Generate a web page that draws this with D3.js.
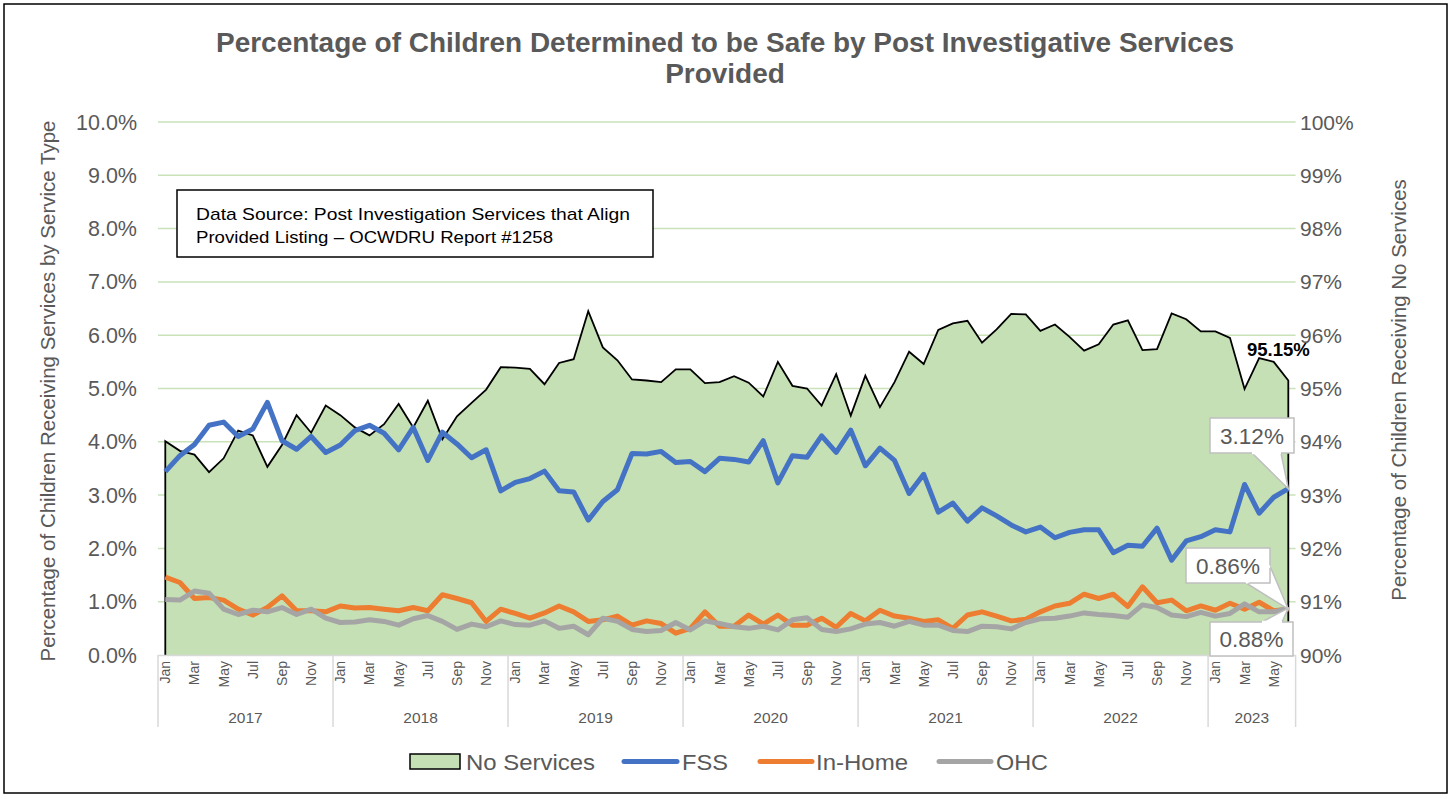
<!DOCTYPE html>
<html><head><meta charset="utf-8">
<script src="https://cdn.jsdelivr.net/npm/d3@7"></script>
<style>body{margin:0;background:#fff}svg{display:block;font-family:"Liberation Sans",Arial,sans-serif}</style>
</head><body>
<svg id="c" width="1451" height="799"></svg>
<script>
const months = ["Jan","Feb","Mar","Apr","May","Jun","Jul","Aug","Sep","Oct","Nov","Dec"];
const years = ["2017","2018","2019","2020","2021","2022","2023"];
const leftTicks = [0,1,2,3,4,5,6,7,8,9,10];
const rightTicks = [90,91,92,93,94,95,96,97,98,99,100];
const noServices = [94.01,93.83,93.76,93.43,93.69,94.21,94.12,93.53,93.94,94.50,94.17,94.68,
 94.50,94.27,94.12,94.33,94.71,94.27,94.77,94.05,94.48,94.73,94.98,95.40,
 95.39,95.37,95.08,95.48,95.55,96.45,95.77,95.53,95.17,95.15,95.12,95.36,
 95.36,95.10,95.12,95.23,95.11,94.85,95.50,95.05,95.00,94.68,95.27,94.49,
 95.24,94.65,95.12,95.69,95.46,96.10,96.22,96.27,95.86,96.11,96.40,96.39,
 96.08,96.20,95.97,95.71,95.83,96.20,96.28,95.72,95.74,96.41,96.30,96.07,
 96.07,95.95,94.99,95.57,95.50,95.15];
const fss = [3.44,3.74,3.95,4.31,4.37,4.10,4.24,4.74,4.02,3.86,4.10,3.80,
 3.94,4.21,4.31,4.16,3.85,4.27,3.65,4.18,3.96,3.70,3.85,3.08,
 3.24,3.31,3.45,3.08,3.06,2.53,2.88,3.10,3.78,3.77,3.82,3.61,
 3.63,3.44,3.69,3.67,3.62,4.02,3.23,3.74,3.71,4.11,3.80,4.22,
 3.55,3.88,3.65,3.03,3.39,2.68,2.85,2.51,2.76,2.61,2.44,2.31,
 2.40,2.20,2.30,2.35,2.35,1.92,2.06,2.04,2.38,1.78,2.14,2.22,
 2.35,2.31,3.20,2.66,2.96,3.12];
const inHome = [1.46,1.36,1.06,1.08,1.03,0.86,0.75,0.89,1.11,0.83,0.83,0.81,
 0.92,0.88,0.89,0.86,0.83,0.89,0.83,1.13,1.06,0.98,0.63,0.86,
 0.78,0.69,0.79,0.92,0.81,0.63,0.66,0.73,0.56,0.64,0.59,0.41,
 0.50,0.81,0.54,0.54,0.75,0.58,0.75,0.56,0.56,0.69,0.52,0.78,
 0.64,0.84,0.73,0.69,0.63,0.66,0.50,0.75,0.81,0.73,0.64,0.67,
 0.81,0.92,0.97,1.14,1.06,1.14,0.91,1.28,0.98,1.03,0.83,0.92,
 0.84,0.97,0.86,0.99,0.83,0.86];
const ohc = [1.04,1.03,1.20,1.16,0.86,0.76,0.84,0.81,0.89,0.76,0.86,0.69,
 0.61,0.62,0.66,0.63,0.56,0.68,0.74,0.63,0.48,0.58,0.53,0.64,
 0.57,0.56,0.64,0.50,0.54,0.38,0.69,0.63,0.48,0.44,0.46,0.61,
 0.47,0.64,0.59,0.53,0.50,0.54,0.47,0.66,0.70,0.48,0.44,0.49,
 0.58,0.61,0.54,0.63,0.56,0.56,0.46,0.44,0.54,0.53,0.49,0.61,
 0.68,0.69,0.73,0.79,0.76,0.74,0.71,0.94,0.89,0.75,0.72,0.80,
 0.73,0.78,0.96,0.81,0.81,0.88];

const N = noServices.length;
const idx = d3.range(N);
const gray = "#595959";
const svg = d3.select("#c");
svg.append("rect").attr("x",4).attr("y",4).attr("width",1443).attr("height",789)
  .attr("fill","#fff").attr("stroke","#000").attr("stroke-width",1.5);

const x = d3.scaleBand().domain(idx).range([158,1295.6]).padding(0);
const xc = i => x(i) + x.bandwidth()/2;
const yL = d3.scaleLinear().domain([0,10]).range([655,122]);
const yR = d3.scaleLinear().domain([90,100]).range([655,122]);

function fit(sel, w){ sel.attr("textLength", w).attr("lengthAdjust","spacingAndGlyphs"); return sel; }

// gridlines
svg.append("g").selectAll("line").data(leftTicks.slice(1)).join("line")
  .attr("x1",158).attr("x2",1295.6).attr("y1",d=>yL(d)).attr("y2",d=>yL(d))
  .attr("stroke","#c9e2b8").attr("stroke-width",1.5);

// area
const area = d3.area().x(i=>xc(i)).y0(yR(90)).y1(i=>yR(noServices[i]));
svg.append("path").datum(idx).attr("d",area).attr("fill","#c5e0b4");
const outline = d3.line().x(d=>d[0]).y(d=>d[1]);
const pts = [[xc(0),yR(90)]].concat(idx.map(i=>[xc(i),yR(noServices[i])])).concat([[xc(N-1),yR(90)]]);
svg.append("path").attr("d",outline(pts)).attr("fill","none").attr("stroke","#000").attr("stroke-width",1.8);

// x axis
svg.append("line").attr("x1",158).attr("x2",1295.6).attr("y1",655.5).attr("y2",655.5).attr("stroke","#d9d9d9").attr("stroke-width",1.5);
const sepIdx = [0,12,24,36,48,60,72];
const seps = sepIdx.map(i=>x(i)).concat([x(N-1)+x.bandwidth()]);
svg.append("g").selectAll("line").data(seps).join("line")
  .attr("x1",d=>d).attr("x2",d=>d).attr("y1",655).attr("y2",727)
  .attr("stroke","#d9d9d9").attr("stroke-width",1.5);
svg.append("g").selectAll("text").data(idx.filter(i=>i%2===0)).join("text")
  .attr("transform",i=>`translate(${xc(i)+5},661) rotate(-90)`)
  .attr("text-anchor","end").attr("font-size",14).attr("fill",gray)
  .text(i=>months[i%12]);
svg.append("g").selectAll("text").data(years).join("text")
  .attr("x",(d,k)=>(seps[k]+seps[k+1])/2).attr("y",723)
  .attr("text-anchor","middle").attr("font-size",15.5).attr("fill",gray).text(d=>d);

// y axes labels
svg.append("g").selectAll("text").data(leftTicks).join("text")
  .attr("x",137).attr("y",d=>yL(d)+7.5).attr("text-anchor","end")
  .attr("font-size",21.5).attr("fill",gray).text(d=>d.toFixed(1)+"%");
svg.append("g").selectAll("text").data(rightTicks).join("text")
  .attr("x",1300).attr("y",d=>yR(d)+7.5).attr("text-anchor","start")
  .attr("font-size",21).attr("fill",gray).text(d=>d+"%");
svg.append("text").attr("transform","translate(55,391) rotate(-90)").attr("text-anchor","middle")
  .attr("font-size",20.5).attr("fill",gray).text("Percentage of Children Receiving Services by Service Type");
svg.append("text").attr("transform","translate(1406,390) rotate(-90)").attr("text-anchor","middle")
  .attr("font-size",20.5).attr("fill",gray).text("Percentage of Children Receiving No Services");

// lines
const series = [{v:fss,c:"#4472c4"},{v:inHome,c:"#ed7d31"},{v:ohc,c:"#a5a5a5"}];
const line = d3.line().x(i=>xc(i));
series.forEach(s=>{
  svg.append("path").datum(idx).attr("d",line.y(i=>yL(s.v[i]))).attr("fill","none")
    .attr("stroke",s.c).attr("stroke-width",5).attr("stroke-linejoin","round");
});

// title
const t1 = svg.append("text").attr("x",725).attr("y",52).attr("text-anchor","middle")
  .attr("font-size",27).attr("font-weight","bold").attr("fill",gray)
  .text("Percentage of Children Determined to be Safe by Post Investigative Services");
const t2 = svg.append("text").attr("x",725).attr("y",83).attr("text-anchor","middle")
  .attr("font-size",27).attr("font-weight","bold").attr("fill",gray).text("Provided");
const w1 = t1.node().getComputedTextLength();
const ratio = 1018/w1;
fit(t1,1018);
fit(t2,t2.node().getComputedTextLength()*ratio);

// source box
svg.append("rect").attr("x",177).attr("y",190).attr("width",476).attr("height",67)
  .attr("fill","#fff").attr("stroke","#000").attr("stroke-width",1.5);
fit(svg.append("text").attr("x",196).attr("y",220).attr("font-size",17).attr("fill","#000")
  .text("Data Source: Post Investigation Services that Align"),434);
fit(svg.append("text").attr("x",196).attr("y",243).attr("font-size",17).attr("fill","#000")
  .text("Provided Listing \u2013 OCWDRU Report #1258"),357);

// data labels
const lastX = xc(N-1);
svg.append("text").attr("x",1247).attr("y",356).attr("font-size",18.5).attr("font-weight","bold")
  .attr("fill","#000").text(noServices[N-1].toFixed(2)+"%");
function callout(bx,by,bw,bh,wedge,txt){
  const g = svg.append("g");
  g.append("path").attr("d",d3.line()(wedge)).attr("fill","#fff").attr("stroke","#bfbfbf").attr("stroke-width",1.5);
  g.append("rect").attr("x",bx).attr("y",by).attr("width",bw).attr("height",bh)
    .attr("fill","#fff").attr("stroke","#bfbfbf").attr("stroke-width",1.5);
  g.append("path").attr("d",d3.line()(wedge.slice(0,1).concat(wedge.slice(-1)))).attr("stroke","#fff").attr("stroke-width",2.5);
  g.append("text").attr("x",bx+bw/2).attr("y",by+bh/2+8).attr("text-anchor","middle")
    .attr("font-size",22.5).attr("fill",gray).text(txt);
}
const pF = [lastX, yL(fss[N-1])];
callout(1210,418,84,35,[[1252,453],pF,[1281,453]],fss[N-1].toFixed(2)+"%");
const pI = [lastX, yL(inHome[N-1])];
callout(1186,548,84,35,[[1246,583],pI,[1270,566]],inHome[N-1].toFixed(2)+"%");
const pO = [lastX, yL(ohc[N-1])];
callout(1210,622,83,34,[[1262,622],pO,[1282,622]],ohc[N-1].toFixed(2)+"%");

// legend
const lg = svg.append("g");
lg.append("rect").attr("x",410).attr("y",754).attr("width",50).attr("height",15)
  .attr("fill","#c5e0b4").attr("stroke","#000").attr("stroke-width",1.5);
fit(lg.append("text").attr("x",466).attr("y",770).attr("font-size",22.5).attr("fill",gray).text("No Services"),129);
const legItems = [{t:"FSS",c:"#4472c4",x1:624,x2:677,tx:682,w:46},{t:"In-Home",c:"#ed7d31",x1:760,x2:812,tx:816,w:92},{t:"OHC",c:"#a5a5a5",x1:939,x2:991,tx:996,w:52}];
legItems.forEach(d=>{
  lg.append("line").attr("x1",d.x1).attr("x2",d.x2).attr("y1",761.5).attr("y2",761.5)
    .attr("stroke",d.c).attr("stroke-width",5).attr("stroke-linecap","round");
  fit(lg.append("text").attr("x",d.tx).attr("y",770).attr("font-size",22.5).attr("fill",gray).text(d.t),d.w);
});
</script>
</body></html>
